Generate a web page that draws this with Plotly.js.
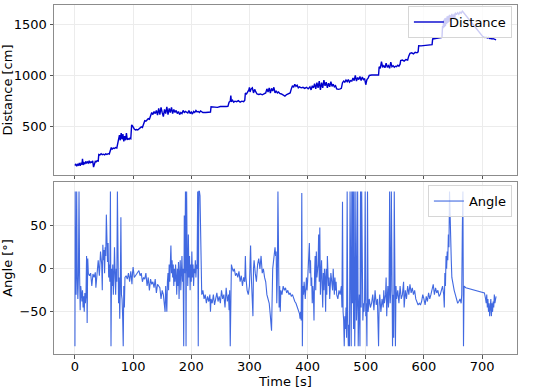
<!DOCTYPE html>
<html>
<head>
<meta charset="utf-8">
<script src="https://cdn.plot.ly/plotly-3.0.1.min.js"></script>
<style>html,body{margin:0;padding:0;background:#fff;}#chart{width:550px;height:390px;}</style>
</head>
<body>
<div id="chart"></div>
<script>
const distTime = [
0,1.5,3,4.5,6,7.5,9,10.5,12,13,
14,15.5,17,18.5,20,21.5,23,24.5,26,27.5,
29,30.5,32,33.5,35,36.5,38,40,41,43,
45,47,49,51,53,55,57,59,61,62.5,
64,66,68,70,72,73.5,75,76.5,78,79.5,
81,82.5,84,85.5,87,88.5,90,91.5,93,94.5,
96,97.5,99,100.5,102,104,106,108,110,112,
114,116,118,120,122,124,126,128,130,132,
134,136,138,140,142,144,146,148,150,152,
154,156,158,160,162,164,166,168,170,172,
174,176,178,180,182,184,186,188,190,192,
194,196,198,200,202,204,206,208,210,212,
214,216,218,220,225,230,233,234,240,245,
250,255,260,263,265,267,268,269,271,273,
275,278,281,284,287,290,292,293,295,297,
299,300,301,303,305,307,309,311,313,316,
319,322,325,328,330,332,334,336,338,340,
342,344,346,348,350,352,355,358,361,364,
367,370,372,374,376,378,380,382,384,386,
389,392,395,398,401,404,406,408,410,412,
414,416,418,420,422,424,426,428,430,432,
434,436,438,440,442,444,446,448,450,453,
456,458,460,462,464,466,468,470,472,474,
476,478,480,482,484,486,488,490,492,494,
496,498,500,502,504,506,510,515,520,522,
523,525,527,529,531,533,535,537,539,541,
543,545,547,549,551,553,555,557,559,560,
563,566,569,572,574,576,579,582,585,588,
590,591,595,600,605,610,614,615,620,625,
629,631,632,633,634,635,636,637,638,639,
640,641,642,643,644,645,646,647,648,649,
650,651,652,653,654,656,658,660,662,664,
666,667,701,703,705,707,709,711,713,715,
717,719,721,723,724];

const distValues = [
125,140,118,135,128,150,122,145,135,190,
130,150,140,165,145,160,150,170,148,160,
155,170,110,158,165,160,170,168,232,228,
240,230,235,228,238,232,240,236,280,300,
285,295,290,300,295,350,360,420,370,440,
380,430,360,410,370,440,375,385,380,390,
385,520,510,490,480,470,475,470,480,490,
500,495,540,560,555,570,580,575,610,640,
620,650,630,660,615,680,620,690,640,600,
670,630,695,620,680,640,690,630,670,640,
660,630,650,620,640,630,660,640,650,640,
635,660,630,645,625,650,640,660,645,650,
640,655,645,640,640,642,645,695,695,690,
698,695,698,700,740,750,805,745,760,740,
750,745,755,740,750,745,760,830,820,840,
860,885,840,870,880,830,865,840,820,815,
820,812,825,830,870,840,880,830,875,850,
885,830,850,830,840,825,820,810,800,815,
820,830,870,900,885,915,895,905,880,890,
880,885,875,885,870,890,860,900,880,920,
870,930,880,945,860,930,880,955,900,935,
880,925,890,940,895,915,890,900,870,865,
870,875,930,945,935,955,940,960,935,950,
945,975,950,1000,945,980,960,990,950,985,
960,970,910,960,975,1000,1005,1005,1002,1005,
1085,1070,1135,1080,1095,1075,1120,1080,1095,1070,
1130,1085,1095,1080,1090,1085,1100,1090,1110,1145,
1150,1140,1155,1150,1190,1215,1220,1210,1225,1220,
1230,1290,1288,1292,1290,1295,1300,1355,1360,1358,
1365,1370,1480,1460,1540,1470,1555,1480,1560,1500,
1575,1510,1580,1520,1590,1530,1585,1540,1600,1550,
1590,1560,1600,1555,1610,1590,1610,1595,1615,1605,
1625,1620,1380,1375,1368,1372,1365,1370,1360,1362,
1355,1358,1350,1348,1345];

const angleTime = [
0,0.5,1,2,3,4,5,6,7,8,
9,10,11,12,13,14,15,16,17,18,
19,20,21,22,23,25,27,29,31,33,
35,36,38,40,42,44,46,47,48,49,
50,51,52,53,54,55,56,57,58,59,
60,61,62,63,64,65,66,67,68,69,
70,71,72,73,74,75,76,77,78,79,
80,81,82,83,84,85,86,88,90,92,
94,95,96,97,98,99,100,102,104,106,
108,110,112,114,116,118,120,122,124,126,
128,130,132,134,136,138,140,142,144,146,
148,150,152,154,155,156,157,158,159,160,
161,162,163,164,165,166,167,168,169,170,
171,172,173,174,175,176,177,178,179,180,
181,182,183,184,185,186,187,188,189,190,
191,192,193,194,195,196,197,198,199,200,
201,202,203,204,205,206,207,208,209,210,
211,212,213,214,215,216,217,218,220,222,
224,226,228,230,232,233,234,236,238,240,
242,244,246,248,250,252,254,256,258,260,
262,264,265,266,267,268,269,270,272,274,
276,278,280,282,284,286,288,290,292,293,
294,296,298,300,302,303,304,306,307,308,
310,312,314,316,318,320,322,324,326,328,
330,332,334,336,338,340,342,344,345,346,
347,348,349,350,351,352,353,354,356,358,
360,362,364,366,368,370,372,374,376,378,
380,382,384,386,387,388,389,390,391,392,
393,394,396,398,399,400,401,402,403,404,
405,406,407,408,409,410,411,412,413,414,
415,416,418,419,420,421,422,423,424,425,
426,427,428,429,430,431,432,433,434,435,
436,437,438,440,442,443,444,445,446,447,
448,449,450,452,454,456,458,459,460,461,
462,463,464,465,466,467,468,469,470,471,
472,473,474,475,476,477,478,479,480,481,
482,483,484,485,486,487,488,489,490,491,
492,493,494,495,496,497,498,499,500,501,
502,503,504,506,508,510,512,514,516,518,
520,521,522,523,524,526,528,530,531,532,
534,535,536,537,538,539,540,541,542,543,
544,545,546,547,548,549,550,551,552,553,
555,557,559,561,563,565,566,568,570,572,
574,576,578,580,582,584,586,588,590,592,
594,596,598,600,602,604,606,608,610,612,
614,616,618,620,622,624,626,628,630,632,
634,635,636,637,638,639,640,641,642,643,
644,645,646,647,648,650,652,654,656,658,
660,662,664,665,666,667,668,669,672,704,
706,707,708,709,710,711,712,713,714,715,
716,717,718,719,720,721,722,723,724];

const angleValues = [
-90,90,-8,-30,90,-10,-35,-8,90,-5,
-48,-20,-30,-38,-25,-45,-32,-50,-28,-40,
-30,15,-63,12,-5,-8,-5,-20,-6,-10,
-4,-22,-5,10,-8,20,5,-25,28,10,
22,-5,25,15,63,20,8,30,-10,5,
-15,90,-90,0,-20,5,-30,-8,25,-5,
-30,0,-15,90,-5,-40,-10,-58,-20,60,
-30,-35,-55,-90,-20,-45,-10,-8,-12,-5,
-15,-8,-3,-10,-18,-5,2,-10,-8,-5,
-3,-2,-8,-5,-15,-10,-12,-5,-20,-10,
-25,-12,-18,-15,-22,-12,-28,-18,-20,-22,
-35,-25,-30,-45,-50,-20,-40,-50,-15,-5,
-25,5,-15,10,27,-5,10,-10,5,-20,
0,-15,5,-10,-30,0,-20,8,-35,-5,
10,-25,-5,15,-15,0,-90,62,-5,90,
-90,90,10,-20,40,-10,15,-25,5,-15,
20,-10,5,-20,0,-5,10,-10,5,0,
90,-90,90,90,85,35,-20,-30,-25,-35,
-30,-40,-32,-38,-30,-50,-35,-40,-30,-42,
-35,-28,-38,-32,-40,-25,-35,-30,-45,-22,
-38,-30,-48,-25,-90,0,5,2,-3,0,
-8,-5,-10,-3,-15,-8,-20,-10,-15,15,
-10,-25,-30,-20,27,-5,-28,-55,0,10,
-5,-15,5,12,0,15,-5,0,-10,-15,
-30,-35,-40,-55,-72,0,10,25,15,20,
-40,-10,90,-30,-45,-20,-50,-25,-30,-20,
-25,-22,-28,-25,-30,-28,-32,-30,-35,-38,
-40,-45,-48,-52,-58,-50,-60,88,-90,-20,
-30,-15,-35,-10,-25,-15,5,0,30,-5,
10,-20,-10,-40,-20,-30,-60,-5,15,-25,
20,-10,5,40,-15,48,-30,-5,10,-20,
-45,-5,-25,0,-10,-50,0,-30,15,-5,
-20,-10,-35,-5,-15,-25,0,-20,-30,-10,
-25,-15,-30,-35,-25,-30,-20,-45,78,-50,
-60,-90,-55,-70,-45,-80,90,-60,-90,-65,
-90,90,-50,-90,90,-40,90,-70,90,-90,
-30,90,-60,-40,90,-90,-50,-30,-90,90,
-45,90,-30,-60,-40,-50,-35,90,-55,-40,
-90,90,-50,-35,-45,-40,-30,-48,-25,-42,
-35,-60,-90,-40,-30,-50,-35,-45,-25,-40,
-30,-10,-55,-35,-20,-45,-30,90,-40,-25,
90,-50,-90,-30,-80,90,-40,-90,-20,-35,
-25,-40,-20,-35,-30,-15,-45,-25,-35,-20,
-30,-18,-28,-22,-30,-25,-35,-40,-42,-40,
-42,-38,-30,-35,-42,-32,-38,-28,-35,-30,
-25,-18,-30,-22,-28,-25,-32,-30,-25,-20,
-30,-45,-5,-20,15,0,20,10,40,25,
90,50,25,10,-10,-20,-25,-30,-35,-40,
-38,-35,-40,-30,45,90,-90,-20,-22,-28,
-35,-40,-30,-45,-35,-50,-40,-55,-45,-35,
-55,-40,-50,-38,-45,-30,-40,-35,-32];

const timeTicks = [0,100,200,300,400,500,600,700];
const distTicks = [500,1000,1500];
const angleTicks = [-50,0,50];

const FONT = 'DejaVu Sans';
const gridColor = '#ececec';
const frameColor = '#8c8c8c';

const traces = [
  {x: distTime, y: distValues, type:'scatter', mode:'lines', name:'Distance',
   line:{color:'#0000CD', width:1.4}, xaxis:'x', yaxis:'y', legend:'legend'},
  {x: angleTime, y: angleValues, type:'scatter', mode:'lines', name:'Angle',
   line:{color:'#4169E1', width:1.1}, xaxis:'x2', yaxis:'y2', legend:'legend2'}
];

const axisCommon = {
  showgrid:true, gridcolor:gridColor, gridwidth:1,
  showline:true, mirror:true, linecolor:frameColor, linewidth:1,
  ticks:'outside', ticklen:3.5, tickcolor:'#555', tickwidth:1,
  zeroline:false, tickfont:{family:FONT, size:13, color:'#000'}
};

const legendCommon = {
  xanchor:'right', yanchor:'top', bgcolor:'rgba(255,255,255,0.8)',
  bordercolor:'#d6d6d6', borderwidth:1, itemwidth:30,
  font:{family:FONT, size:13, color:'#000'}
};

const layout = {
  width:550, height:390,
  margin:{l:54, r:33, t:5, b:36},
  paper_bgcolor:'#fff', plot_bgcolor:'#fff',
  font:{family:FONT, size:13, color:'#000'},
  showlegend:true,
  xaxis: Object.assign({}, axisCommon, {domain:[0,1], anchor:'y', range:[-36,760],
    tickvals:timeTicks, showticklabels:false}),
  yaxis: Object.assign({}, axisCommon, {domain:[0.513,1], anchor:'x', range:[33,1685],
    tickvals:distTicks, title:{text:'Distance [cm]', font:{family:FONT, size:13}, standoff:3}}),
  xaxis2: Object.assign({}, axisCommon, {domain:[0,1], anchor:'y2', range:[-36,760],
    tickvals:timeTicks, ticklabelstandoff:-3,
    title:{text:'Time [s]', font:{family:FONT, size:13}, standoff:0}}),
  yaxis2: Object.assign({}, axisCommon, {domain:[0,0.493], anchor:'x2', range:[-99,101],
    tickvals:angleTicks, title:{text:'Angle [°]', font:{family:FONT, size:13}, standoff:3}}),
  legend: Object.assign({}, legendCommon, {x:0.989, y:0.997}),
  legend2: Object.assign({}, legendCommon, {x:0.989, y:0.484})
};

Plotly.newPlot('chart', traces, layout, {staticPlot:true, displayModeBar:false});
</script>
</body>
</html>
